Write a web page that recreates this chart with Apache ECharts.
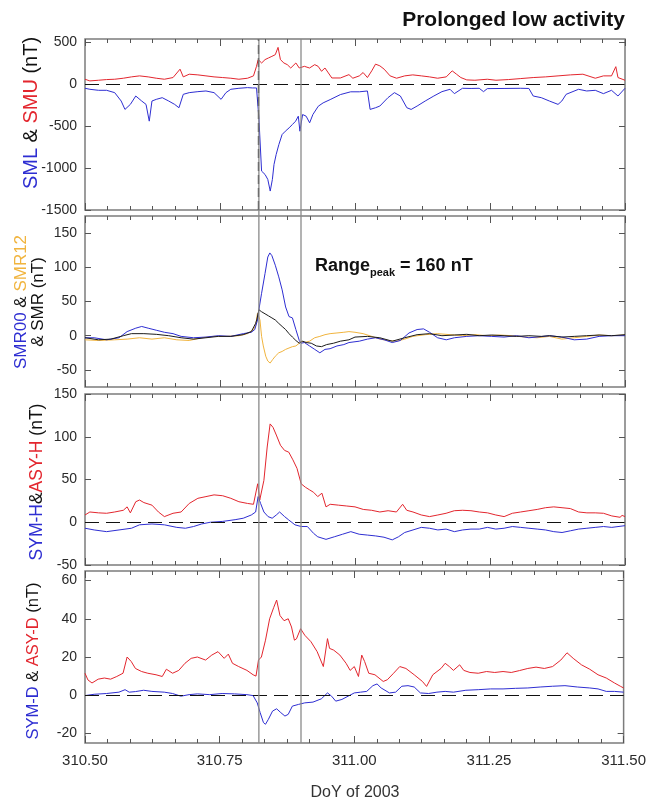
<!DOCTYPE html>
<html><head><meta charset="utf-8">
<script src="https://cdn.jsdelivr.net/npm/echarts@6/dist/echarts.min.js"></script>
<style>html,body{margin:0;padding:0;background:#fff}#c{width:649px;height:801px}</style>
</head><body><div id="c"></div>
<script>
// ---- Panel 1: SMU (red) and SML (blue), nT
const smuT = [310.500,310.509,310.525,310.540,310.555,310.571,310.586,310.601,310.617,310.632,310.647,310.663,310.676,310.682,310.693,310.709,310.724,310.739,310.755,310.770,310.785,310.801,310.812,310.8144,310.8176,310.8207,310.8271,310.8334,310.8398,310.8461,310.8524,310.8575,310.8619,310.8683,310.8746,310.8810,310.8905,310.8968,310.9063,310.9158,310.9254,310.9317,310.9380,310.9444,310.9507,310.9571,310.9729,310.9888,310.996,311.008,311.015,311.023,311.031,311.038,311.046,311.054,311.065,311.077,311.092,311.107,311.123,311.138,311.153,311.169,311.180,311.188,311.196,311.207,311.222,311.245,311.261,311.284,311.307,311.330,311.353,311.376,311.399,311.422,311.445,311.460,311.475,311.483,311.487,311.500];
const smuV = [60,40,48,56,60,72,88,100,88,72,60,80,180,88,120,112,100,88,80,72,60,72,100,115,214,294,254,294,314,333,353,440,294,254,234,194,254,194,214,194,234,214,155,194,135,75,75,115,72,100,140,80,160,240,220,180,100,72,100,112,100,88,72,88,160,120,80,52,48,60,48,56,68,80,88,100,112,120,72,100,100,210,80,48];
const smlT = [310.500,310.509,310.525,310.540,310.555,310.567,310.574,310.584,310.594,310.605,310.613,310.619,310.624,310.632,310.643,310.655,310.666,310.674,310.682,310.693,310.709,310.724,310.739,310.752,310.761,310.770,310.785,310.801,310.810,310.8176,310.822,310.827,310.8334,310.8385,310.843,310.847,310.850,310.854,310.859,310.865,310.871,310.878,310.884,310.890,310.895,310.898,310.903,310.9095,310.916,310.922,310.932,310.941,310.954,310.973,310.992,311.008,311.023,311.028,311.038,311.046,311.061,311.073,311.084,311.096,311.104,311.115,311.130,311.146,311.161,311.176,311.184,311.199,311.215,311.230,311.238,311.245,311.276,311.307,311.322,311.330,311.345,311.360,311.376,311.383,311.391,311.414,311.429,311.445,311.460,311.475,311.487,311.500];
const smlV = [-48,-60,-72,-72,-100,-200,-300,-240,-140,-200,-240,-440,-200,-180,-160,-200,-240,-280,-120,-100,-88,-80,-100,-180,-100,-60,-48,-40,-44,-44,-400,-1036,-1076,-1135,-1274,-1135,-957,-838,-719,-600,-560,-520,-480,-441,-381,-560,-361,-381,-460,-361,-262,-222,-183,-123,-90,-90,-80,-300,-280,-260,-160,-100,-140,-280,-300,-260,-200,-140,-88,-60,-112,-48,-50,-48,-88,-52,-50,-48,-50,-140,-160,-200,-240,-200,-120,-60,-80,-72,-112,-72,-140,-48];

// ---- Panel 2: SMR00 (blue), SMR12 (orange), SMR (black)
const s00T = [310.500,310.517,310.540,310.563,310.578,310.594,310.605,310.617,310.632,310.647,310.663,310.678,310.701,310.724,310.747,310.770,310.793,310.808,310.8144,310.8195,310.822,310.827,310.8334,310.8385,310.8423,310.8461,310.8524,310.8588,310.8651,310.8715,310.8778,310.8841,310.8905,310.8968,310.900,310.9063,310.9158,310.9254,310.9349,310.9444,310.9539,310.9666,310.9793,310.9888,311.008,311.023,311.038,311.054,311.069,311.084,311.100,311.115,311.127,311.138,311.153,311.169,311.184,311.207,311.230,311.253,311.276,311.299,311.322,311.337,311.360,311.383,311.406,311.429,311.452,311.475,311.500];
const s00V = [-3,-3,-6,-3,6,11,13.5,11,8,5,3,-1,-3,-2,0,-1,3,5,9,23,38,62,91,115,121,117,103,86,67,42,28,26,9,-7,-11,-10,-15,-20,-25,-20,-19,-15,-13,-10,-8,-5,-3,-6,-10,-7,4,9,10,5,-3,-6,-3,-1,0,-1,-2,0,-3,-2,0,-2,-6,-5,-1,0,0];
const s12T = [310.500,310.525,310.555,310.578,310.601,310.624,310.647,310.670,310.693,310.716,310.739,310.762,310.785,310.801,310.812,310.816,310.8195,310.824,310.827,310.8302,310.8347,310.8385,310.8429,310.8474,310.8524,310.8588,310.8651,310.8715,310.8778,310.8841,310.8905,310.8968,310.900,310.9063,310.9158,310.9254,310.9349,310.9444,310.9539,310.9666,310.9793,310.9888,311.000,311.015,311.031,311.046,311.061,311.077,311.092,311.107,311.130,311.153,311.176,311.199,311.222,311.245,311.268,311.291,311.314,311.337,311.360,311.383,311.406,311.429,311.452,311.475,311.500];
const s12V = [-6,-7,-6,-5,-3,-5,-3,-6,-7,-3,-1,-1,0,3,9,15,33,23,-1,-15,-30,-37,-40,-35,-30,-25,-23,-20,-18,-16,-15,-11,-8,-10,-8,-3,-1,1.5,3,4,5,6,5,3,-1,-5,-7,-8,-5,-1,1.5,3,1.5,0,1.5,0,1,0,-2,-3,-1,-5,-3,-1,1,0,1];
const smrT = [310.500,310.525,310.548,310.571,310.586,310.609,310.632,310.655,310.678,310.701,310.724,310.747,310.770,310.793,310.808,310.816,310.818,310.822,310.827,310.8334,310.8398,310.8461,310.8524,310.8588,310.8651,310.8715,310.8778,310.8841,310.8905,310.8968,310.9032,310.9095,310.919,310.9285,310.938,310.9475,310.9602,310.9729,310.9888,311.000,311.023,311.046,311.069,311.092,311.115,311.138,311.161,311.184,311.207,311.230,311.253,311.276,311.299,311.322,311.345,311.360,311.383,311.406,311.429,311.452,311.475,311.500];
const smrV = [-3,-6,-5,0,3,3,2,0,-3,-5,-3,-1,-1,1.5,6,18,23,38,35,32,29,26,23,18,13.5,9,3,-2,-7,-11,-8,-10,-11,-15,-16,-13,-11,-8,-6,-2,-1,-3,-8,-3,1.5,3,0,1,2,0,1,0,-1,0,-1,0,-2,-1,0,1,0,1.5];

// ---- Panel 3: ASY-H (red), SYM-H (blue)
const ahT = [310.500,310.509,310.525,310.540,310.555,310.571,310.578,310.584,310.594,310.601,310.609,310.624,310.636,310.647,310.663,310.678,310.693,310.709,310.724,310.739,310.755,310.770,310.785,310.801,310.812,310.8198,310.8236,310.8313,310.8374,310.8428,310.8482,310.8543,310.862,310.8696,310.8773,310.885,310.8926,310.9003,310.908,310.9156,310.9233,310.931,310.9387,310.9463,310.954,310.9693,310.9847,311.000,311.0153,311.0307,311.046,311.0613,311.0767,311.0882,311.0958,311.1074,311.1227,311.138,311.1534,311.1687,311.184,311.1994,311.2147,311.2301,311.2454,311.2607,311.2761,311.2914,311.3067,311.3221,311.3374,311.3528,311.3681,311.3834,311.3988,311.4141,311.4294,311.4448,311.4601,311.4755,311.4908,311.4946,311.500];
const ahV = [8.5,12,11,10.5,12,14,18,11,24,26,23,20,12,6.6,10.5,12,22,28,30,32,31,28,24,22,21,45,26,49,88,115,111,102,90,84,82,73,63,45,41,38,35,30,34,18,21,20,19,18,15,14,12,13.5,12,21,14,12,8.5,6.6,8.5,10.5,13.5,14,13.5,12,11,8.5,6.6,10.5,12,13.5,15,17,18,17,16,12,11,11,10.5,7.4,5.8,8,6.6];
const shT = [310.500,310.517,310.540,310.563,310.586,310.601,310.624,310.647,310.670,310.686,310.701,310.716,310.732,310.755,310.778,310.793,310.808,310.816,310.8206,310.8252,310.8313,310.839,310.8466,310.8543,310.8604,310.8696,310.8773,310.8888,310.9003,310.9118,310.9233,310.931,310.9463,310.9617,310.977,310.9923,311.0077,311.023,311.0383,311.0537,311.069,311.0805,311.092,311.1074,311.1227,311.138,311.1534,311.1687,311.184,311.1994,311.2147,311.2301,311.2454,311.2607,311.2761,311.2914,311.3067,311.3221,311.3374,311.3528,311.3681,311.3834,311.3988,311.4141,311.4294,311.4448,311.4601,311.4755,311.500];
const shV = [-7,-9,-11,-9,-7,-3,-2,-3,-6,-7,-5,-2,0,1,3,4.7,8.5,12,30,22,12,6.6,4.7,8.5,12,6.6,2.7,-3,-5,-5,-13,-17,-20,-17,-14,-11,-14,-15,-16,-17.5,-20.6,-17,-12,-9,-6,-7,-9,-8,-11,-9,-8,-8,-6,-8,-7,-5,-6,-7,-8,-9,-11,-12,-10,-8,-7,-6,-5,-6,-4];

// ---- Panel 4: ASY-D (red), SYM-D (blue)
const adT = [310.500,310.5054,310.513,310.5245,310.536,310.5475,310.559,310.5706,310.5782,310.5859,310.5936,310.6051,310.6166,310.6319,310.6434,310.6511,310.6626,310.6741,310.6856,310.6971,310.7086,310.7239,310.7354,310.7469,310.7584,310.7661,310.7738,310.7853,310.8006,310.8121,310.8175,310.8221,310.8275,310.8351,310.8428,310.8505,310.8558,310.862,310.8696,310.8773,310.8834,310.8888,310.8926,310.9003,310.908,310.9195,310.931,310.9425,310.9502,310.954,310.9617,310.9732,310.9847,310.9923,311.000,311.0077,311.0138,311.0192,311.0268,311.0383,311.0537,311.0613,311.0729,311.0844,311.0958,311.1112,311.1265,311.1342,311.1457,311.161,311.1687,311.1764,311.184,311.1956,311.2032,311.2147,311.2301,311.2454,311.2607,311.2761,311.2914,311.3067,311.3221,311.3374,311.3528,311.3681,311.3834,311.3949,311.4064,311.4218,311.4371,311.4525,311.4678,311.4831,311.4946,311.500];
const adV = [11.5,8,6.4,8.4,9,8.4,9.8,11.5,20,17.6,14,12.4,11.5,10.7,9.8,13.6,11.5,13,16.7,19.3,20,18.4,21,22.8,19.3,21.5,16.7,15,13,10.7,10,18.4,20,28.8,40,46,49.8,41.7,39,40,35.7,28.8,29.5,34.8,31.4,28,22.8,15,29.6,24.5,23.6,21,16.7,13,15,9.8,21,17.6,11.5,10.7,7.2,8.1,11.5,15,14,10.7,7.2,4.6,10.7,14,16.7,15,13,15.9,13,11.9,11.5,12.4,11.9,12.4,11.9,12.9,14,14.7,14,15,18.4,22.2,19.3,15.9,13.6,10.7,9,6.4,4.6,3.8];
const sdT = [310.500,310.517,310.540,310.563,310.5744,310.5821,310.5936,310.6089,310.6242,310.6472,310.6626,310.6779,310.6933,310.7086,310.7316,310.7546,310.7776,310.8006,310.8121,310.8198,310.8252,310.8313,310.8351,310.8405,310.8482,310.8558,310.8635,310.8712,310.8773,310.885,310.8965,310.908,310.9233,310.9387,310.9502,310.9578,310.9655,310.977,310.9885,311.000,311.0115,311.023,311.0345,311.0422,311.0498,311.0652,311.0767,311.0882,311.0997,311.1112,311.1227,311.138,311.1534,311.1687,311.184,311.2071,311.2301,311.2531,311.2761,311.2991,311.3221,311.3451,311.3681,311.3911,311.4141,311.4371,311.4525,311.4678,311.4831,311.500];
const sdV = [-0.2,0.5,0.9,1.6,2.9,1.6,1.9,2.6,2,1.6,0.9,-0.5,0.3,0.7,0.3,0.9,0.7,0.3,-0.2,-4,-9.1,-14.3,-15.2,-12.6,-8.3,-7.1,-9.1,-10.9,-10,-5.7,-4.8,-4,-3.6,-1.9,1.2,-0.5,-3.1,-2.2,-0.5,1.2,1.6,2,5,5.9,3.8,1.2,1.6,4.7,5,4.3,1.2,0.9,1.6,2,1.6,2.6,2.9,3.3,3.3,3.6,3.8,4.3,4.7,5,4.3,3.8,3.3,2,2,1.6];

// ---- axes / markers
const xRange = [310.5, 311.5];
const yRanges = [[-1500, 540], [-75, 175], [-50, 150], [-25, 65]];
const yTickValues = [[-1500, -1000, -500, 0, 500], [-50, 0, 50, 100, 150], [-50, 0, 50, 100, 150], [-20, 0, 20, 40, 60]];
const onsetT = 310.8175;
const boxT = [310.822, 310.900];

const FONT = '"Liberation Sans", Arial, Helvetica, sans-serif';
const C = {blue: '#2e2ed2', red: '#e3262e', orange: '#f1b43e', black: '#1c1c1c'};
const grids = [
  {left: 85, right: 24, top: 39, height: 171},
  {left: 85, right: 24, top: 216, height: 171},
  {left: 85, right: 24, top: 394, height: 171},
  {left: 85, right: 24, top: 571, height: 172}
].map(g => Object.assign(g, {show: true, borderColor: '#7c7c7c', borderWidth: 1.5}));

const xAxes = [], yAxes = [];
for (let i = 0; i < 4; i++) {
  const base = {
    type: 'value', gridIndex: i, min: xRange[0], max: xRange[1], interval: 0.25,
    axisLine: {show: false, onZero: false}, splitLine: {show: false},
    axisTick: {show: true, inside: true, length: 7, lineStyle: {color: '#555', width: 1}},
    minorTick: {show: true, splitNumber: 6, length: 4, lineStyle: {color: '#555', width: 1}}
  };
  xAxes.push(Object.assign({}, base, {position: 'bottom',
    axisLabel: {show: i === 3, formatter: v => v.toFixed(2), fontSize: 15, color: '#2a2a2a', margin: 10, fontFamily: FONT}}));
  xAxes.push(Object.assign({}, base, {position: 'top', axisLabel: {show: false}}));
  const yb = {
    type: 'value', gridIndex: i, min: yRanges[i][0], max: yRanges[i][1],
    axisLine: {show: false, onZero: false}, splitLine: {show: false},
    axisTick: {show: true, inside: true, length: 6, customValues: yTickValues[i], lineStyle: {color: '#555', width: 1}}
  };
  yAxes.push(Object.assign({}, yb, {position: 'left',
    axisLabel: {customValues: yTickValues[i], formatter: v => String(v), fontSize: 14, color: '#2a2a2a', margin: 8, fontFamily: FONT}}));
  yAxes.push(Object.assign({}, yb, {position: 'right', axisLabel: {show: false}}));
}

function pairs(t, v) { return t.map((x, i) => [x, v[i]]); }
const zeroLine = {yAxis: 0};
function mk(name, t, v, color, gi, mlData) {
  const s = {
    type: 'line', name, xAxisIndex: 2 * gi, yAxisIndex: 2 * gi, data: pairs(t, v),
    showSymbol: false, symbol: 'none', silent: true, animation: false,
    lineStyle: {color, width: 1}, itemStyle: {color}
  };
  if (mlData) {
    s.markLine = {silent: true, animation: false, symbol: ['none', 'none'], label: {show: false},
      lineStyle: {color: '#111', type: [14, 7], width: 1.2}, data: mlData};
  }
  return s;
}

const series = [
  mk('SMU', smuT, smuV, C.red, 0, [zeroLine, {xAxis: onsetT, lineStyle: {type: [9, 4], width: 1.3, color: '#111'}}]),
  mk('SML', smlT, smlV, C.blue, 0),
  mk('SMR12', s12T, s12V, C.orange, 1),
  mk('SMR00', s00T, s00V, C.blue, 1),
  mk('SMR', smrT, smrV, C.black, 1),
  mk('ASY-H', ahT, ahV, C.red, 2, [zeroLine]),
  mk('SYM-H', shT, shV, C.blue, 2),
  mk('ASY-D', adT, adV, C.red, 3, [zeroLine]),
  mk('SYM-D', sdT, sdV, C.blue, 3)
];

function nameText(id, x, y, text, size, extra) {
  return {
    type: 'text', id, x, y, rotation: Math.PI / 2, silent: true,
    style: Object.assign({
      text, fontSize: size, fontFamily: FONT, fill: '#111', align: 'center', verticalAlign: 'middle',
      rich: {
        b: {fill: C.blue, fontSize: size, fontFamily: FONT},
        r: {fill: C.red, fontSize: size, fontFamily: FONT},
        o: {fill: C.orange, fontSize: size, fontFamily: FONT}
      }
    }, extra || {})
  };
}

const graphic = [
  {type: 'text', id: 'title', x: 625, y: 20, silent: true,
    style: {text: 'Prolonged low activity', fontSize: 21, fontWeight: 'bold', fontFamily: FONT, fill: '#111', align: 'right', verticalAlign: 'middle'}},
  nameText('n1', 31, 113, '{b|SML} & {r|SMU} (nT)', 20),
  nameText('n2', 29.5, 302, '{b|SMR00} & {o|SMR12}\n& SMR (nT)', 17, {lineHeight: 17}),
  nameText('n3', 37, 482, '{b|SYM-H}&{r|ASY-H} (nT)', 17.5),
  nameText('n4', 33, 661, '{b|SYM-D} & {r|ASY-D} (nT)', 16.5),
  {type: 'text', id: 'range', x: 315, y: 266, silent: true,
    style: {text: '{a|Range}{s|peak}{a| = 160 nT}', align: 'left', verticalAlign: 'middle', fill: '#111',
      rich: {
        a: {fontSize: 18, fontWeight: 'bold', fontFamily: FONT, fill: '#111', lineHeight: 24, verticalAlign: 'middle'},
        s: {fontSize: 11, fontWeight: 'bold', fontFamily: FONT, fill: '#111', lineHeight: 24, verticalAlign: 'bottom'}
      }}},
  {type: 'text', id: 'xname', x: 355, y: 793, silent: true,
    style: {text: 'DoY of 2003', fontSize: 16, fontFamily: FONT, fill: '#333', align: 'center', verticalAlign: 'middle'}}
];

const chart = echarts.init(document.getElementById('c'), null, {renderer: 'canvas'});
chart.setOption({
  animation: false,
  backgroundColor: '#fff',
  grid: grids,
  xAxis: xAxes,
  yAxis: yAxes,
  series,
  graphic: {elements: graphic}
});

// gray event box lines spanning all four panels
const yTop = chart.convertToPixel({yAxisIndex: 0}, yRanges[0][1]);
const yBot = chart.convertToPixel({yAxisIndex: 6}, yRanges[3][0]);
const boxEls = boxT.map((t, i) => {
  const px = chart.convertToPixel({xAxisIndex: 0}, t);
  return {type: 'line', id: 'box' + i, silent: true, z: 10,
    shape: {x1: px, y1: yTop, x2: px, y2: yBot}, style: {stroke: '#8a8a8a', lineWidth: 1.3}};
});
chart.setOption({graphic: {elements: boxEls}});
</script>
</body></html>
